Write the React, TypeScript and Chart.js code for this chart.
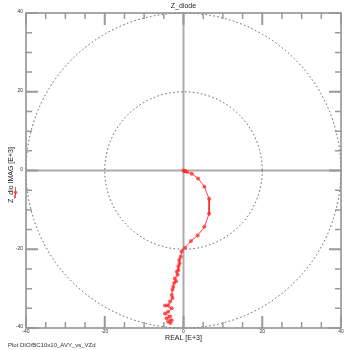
import React, { useEffect, useRef } from "react";
import { Chart, registerables } from "chart.js";
Chart.register(...registerables);

const realValues = [0, 0.2, 0.4, 0.9, 2.1, 3.7, 5.3, 6.5, 6.5, 5.3, 3.6, 1.9, 0.4, -0.5, -0.7, -1.1, -1.0, -1.3, -1.3, -1.7, -1.5, -2.2, -1.9, -2.4, -2.6, -2.8, -3.0, -2.8, -3.4, -3.9, -4.7, -3.0, -3.9, -4.7, -3.4, -4.3, -3.0, -3.9, -3.3];
const imagValues = [0, -0.1, -0.15, -0.4, -0.8, -2.0, -4.1, -7.2, -11.0, -14.3, -16.5, -17.9, -19.6, -20.6, -21.9, -22.7, -23.6, -24.3, -25.3, -25.7, -26.5, -27.4, -28.1, -28.6, -29.5, -30.3, -31.6, -32.4, -33.3, -34.2, -34.3, -35.0, -35.9, -36.3, -37.1, -37.5, -38.0, -38.4, -38.7];
const majorTicks = [-40, -20, 0, 20, 40];
const minorTicks = [-35, -30, -25, -15, -10, -5, 5, 10, 15, 25, 30, 35];
const circleRadii = [20, 40];
const chartTitle = "Z_diode";
const xTitle = "REAL [E+3]";
const yTitle = "Z_dio IMAG [E+3]";
const footer = "Plot DIO/BC10x10_AVY_vs_VZd";

const FONT = "Liberation Sans, Arial, sans-serif";

const decorPlugin = {
  id: "decor",
  beforeDatasetsDraw(chart: any) {
    const ctx = chart.ctx;
    const xs = chart.scales.x;
    const ys = chart.scales.y;
    const a = chart.chartArea;
    const cx = xs.getPixelForValue(0);
    const cy = ys.getPixelForValue(0);
    ctx.save();
    ctx.strokeStyle = "#ababab";
    ctx.lineWidth = 2;
    ctx.beginPath();
    ctx.moveTo(a.left, cy);
    ctx.lineTo(a.right, cy);
    ctx.moveTo(cx, a.top);
    ctx.lineTo(cx, a.bottom);
    ctx.stroke();
    ctx.strokeStyle = "#555";
    ctx.lineWidth = 1;
    ctx.setLineDash([1.5, 2.5]);
    for (const r of circleRadii) {
      const rp = Math.abs(xs.getPixelForValue(r) - cx);
      ctx.beginPath();
      ctx.arc(cx, cy, rp, 0, Math.PI * 2);
      ctx.stroke();
    }
    ctx.setLineDash([]);
    ctx.restore();
  },
  afterDatasetsDraw(chart: any) {
    const ctx = chart.ctx;
    const xs = chart.scales.x;
    const ys = chart.scales.y;
    const a = chart.chartArea;
    ctx.save();
    ctx.strokeStyle = "#8c8c8c";
    ctx.lineWidth = 1.5;
    ctx.strokeRect(a.left, a.top, a.right - a.left, a.bottom - a.top);
    const drawTicks = (vals: number[], len: number, w: number) => {
      ctx.lineWidth = w;
      ctx.beginPath();
      for (const v of vals) {
        const px = xs.getPixelForValue(v);
        const py = ys.getPixelForValue(v);
        ctx.moveTo(px, a.top); ctx.lineTo(px, a.top + len);
        ctx.moveTo(px, a.bottom); ctx.lineTo(px, a.bottom - len);
        ctx.moveTo(a.left, py); ctx.lineTo(a.left + len, py);
        ctx.moveTo(a.right, py); ctx.lineTo(a.right - len, py);
      }
      ctx.stroke();
    };
    ctx.strokeStyle = "#999";
    drawTicks(minorTicks, 6, 1.5);
    drawTicks(majorTicks, 12, 2);
    ctx.fillStyle = "#333";
    ctx.font = `5px ${FONT}`;
    ctx.textAlign = "center";
    ctx.textBaseline = "top";
    for (const v of majorTicks) {
      ctx.fillText(String(v), xs.getPixelForValue(v), a.bottom + 1);
    }
    ctx.textAlign = "right";
    ctx.textBaseline = "middle";
    for (const v of majorTicks) {
      ctx.fillText(String(v), a.left - 3, ys.getPixelForValue(v) - 1);
    }
    ctx.fillStyle = "#222";
    ctx.font = `7px ${FONT}`;
    ctx.textAlign = "center";
    ctx.textBaseline = "middle";
    ctx.fillText(chartTitle, (a.left + a.right) / 2, 6);
    ctx.fillText(xTitle, xs.getPixelForValue(0), 338);
    ctx.save();
    ctx.translate(11, 175);
    ctx.rotate(-Math.PI / 2);
    ctx.fillText(yTitle, 0, 0);
    ctx.restore();
    ctx.strokeStyle = "rgba(255,0,0,0.7)";
    ctx.lineWidth = 1;
    ctx.beginPath();
    ctx.moveTo(15.5, 187);
    ctx.lineTo(15.5, 198);
    ctx.stroke();
    ctx.fillStyle = "rgba(255,40,40,0.75)";
    ctx.beginPath();
    ctx.arc(15.5, 192.5, 1.8, 0, Math.PI * 2);
    ctx.fill();
    ctx.fillStyle = "#333";
    ctx.font = `6px ${FONT}`;
    ctx.textAlign = "left";
    ctx.fillText(footer, 8, 345);
    ctx.restore();
  },
};

export default function App() {
  const ref = useRef<HTMLCanvasElement | null>(null);
  useEffect(() => {
    document.body.style.margin = "0";
    document.body.style.background = "#fff";
    const chart = new Chart(ref.current!, {
      type: "scatter",
      data: {
        datasets: [
          {
            data: realValues.map((x, i) => ({ x, y: imagValues[i] })),
            showLine: true,
            borderColor: "rgba(255,0,0,0.75)",
            borderWidth: 1,
            backgroundColor: "rgba(255,40,40,0.75)",
            pointBorderWidth: 0,
            pointRadius: 2,
          },
        ],
      },
      options: {
        animation: false,
        responsive: false,
        devicePixelRatio: 1,
        layout: { padding: { left: 26, right: 12, top: 13, bottom: 22 } },
        plugins: { legend: { display: false }, tooltip: { enabled: false } },
        scales: {
          x: { type: "linear", min: -40, max: 40, display: false },
          y: { type: "linear", min: -40, max: 40, display: false },
        },
      },
      plugins: [decorPlugin],
    });
    return () => chart.destroy();
  }, []);
  return <canvas ref={ref} width={353} height={350} style={{ display: "block", background: "#fff" }} />;
}
